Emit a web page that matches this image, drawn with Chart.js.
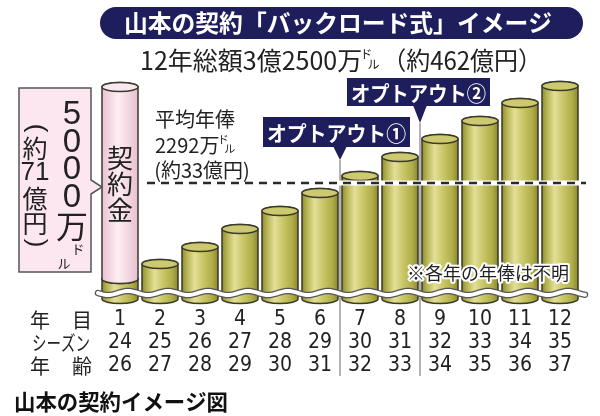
<!DOCTYPE html>
<html lang="ja">
<head>
<meta charset="utf-8">
<script src="https://cdn.jsdelivr.net/npm/chart.js@4.4.1/dist/chart.umd.min.js"></script>
<style>
  html, body { margin: 0; padding: 0; background: #fff; }
  #chart { display: block; }
</style>
</head>
<body>
<canvas id="chart" width="600" height="416"></canvas>
<script>
const years = ["1", "2", "3", "4", "5", "6", "7", "8", "9", "10", "11", "12"];
const seasons = ["24", "25", "26", "27", "28", "29", "30", "31", "32", "33", "34", "35"];
const ages = ["26", "27", "28", "29", "30", "31", "32", "33", "34", "35", "36", "37"];
// heights (the axis is broken, so these are only relative)
const salaryLevel = [20, 35, 52, 70, 88, 106, 123, 142, 160, 178, 196, 213];
const bonusLevel = [192, 0, 0, 0, 0, 0, 0, 0, 0, 0, 0, 0];
const averageLevel = 116;
const optOutAfter = [6, 8];

const JP = '"Noto Sans CJK JP", sans-serif';
const NUM = '"Liberation Sans Narrow", "DejaVu Sans Condensed", sans-serif';
const NAVY = "#1d1e5b";

const goldSide = [[0, "#8e8b2e"], [0.12, "#b3b04f"], [0.35, "#e2df98"], [0.6, "#c8c565"], [0.85, "#aeab48"], [1, "#8a8729"]];
const pinkSide = [[0, "#eac3d2"], [0.45, "#fdeef4"], [1, "#e8c0cf"]];

function cylinder(ctx, cx, w, top, bottom, side, cap) {
    const rx = w / 2, ry = 4.5;
    const l = cx - rx, r = cx + rx;
    const g = ctx.createLinearGradient(l, 0, r, 0);
    side.forEach(([o, c]) => g.addColorStop(o, c));
    ctx.save();
    ctx.lineWidth = 1.5;
    ctx.strokeStyle = "#3b3a2c";
    ctx.beginPath();
    ctx.moveTo(l, top);
    ctx.lineTo(l, bottom);
    ctx.ellipse(cx, bottom, rx, ry, 0, Math.PI, 0, true);
    ctx.lineTo(r, top);
    ctx.ellipse(cx, top, rx, ry, 0, 0, Math.PI, true);
    ctx.closePath();
    ctx.fillStyle = g;
    ctx.fill();
    ctx.stroke();
    ctx.beginPath();
    ctx.ellipse(cx, top, rx, ry, 0, 0, Math.PI * 2);
    ctx.fillStyle = cap;
    ctx.fill();
    ctx.stroke();
    ctx.restore();
}

function text(ctx, str, x, y, font, color, align, maxW) {
    ctx.font = font;
    ctx.fillStyle = color;
    ctx.textAlign = align || "center";
    ctx.textBaseline = "middle";
    if (maxW) ctx.fillText(str, x, y, maxW);
    else ctx.fillText(str, x, y);
}

// a paren turned for vertical writing
function vparen(ctx, ch, x, y, size) {
    ctx.save();
    ctx.translate(x, y);
    ctx.rotate(Math.PI / 2);
    text(ctx, ch, 0, 0, size + 'px "Liberation Sans", sans-serif', "#222");
    ctx.restore();
}

// small ド/ル pair set beside 万
function doru(ctx, x, y, size) {
    text(ctx, "ド", x + size * 0.35, y - size * 0.45, size + "px " + JP, "#222", "center");
    text(ctx, "ル", x + size * 0.95, y + size * 0.35, size + "px " + JP, "#222", "center");
}

const decor = {
    id: "decor",
    beforeDraw(chart) {
        const ctx = chart.ctx;
        ctx.save();
        ctx.fillStyle = "#fff";
        ctx.fillRect(0, 0, chart.width, chart.height);
        ctx.restore();
    },
    beforeDatasetsDraw(chart) {
        const ctx = chart.ctx;
        const xs = chart.scales.x;
        const tips = [160, 123];
        ctx.save();
        ctx.strokeStyle = "#9a9a9a";
        ctx.lineWidth = 1.5;
        optOutAfter.forEach((n, i) => {
            const x = Math.round((xs.getPixelForValue(n - 1) + xs.getPixelForValue(n)) / 2);
            ctx.beginPath();
            ctx.moveTo(x, tips[i]);
            ctx.lineTo(x, 376);
            ctx.stroke();
        });
        ctx.restore();
    },
    afterDatasetsDraw(chart) {
        const ctx = chart.ctx;
        const ys = chart.scales.y;
        const gold = chart.getDatasetMeta(0).data;
        const pink = chart.getDatasetMeta(1).data;

        gold.forEach((b) => cylinder(ctx, b.x, b.width, b.y, b.base, goldSide, "#ccc96f"));
        pink.forEach((b, i) => {
            if (bonusLevel[i] > 0) cylinder(ctx, b.x, b.width, b.y, b.base, pinkSide, "#fbe7ef");
        });

        // broken-axis wave
        const wy = ys.getPixelForValue(0) - 6;
        const x0 = chart.chartArea.left - 2, x1 = chart.chartArea.right + 5;
        ctx.save();
        ctx.beginPath();
        for (let x = x0; x <= x1; x += 1) {
            const y = wy + 2 * Math.sin(((x - x0) / 40) * Math.PI * 2);
            if (x === x0) ctx.moveTo(x, y); else ctx.lineTo(x, y);
        }
        ctx.lineCap = "round";
        ctx.strokeStyle = "#555";
        ctx.lineWidth = 6.5;
        ctx.stroke();
        ctx.strokeStyle = "#fff";
        ctx.lineWidth = 4;
        ctx.stroke();
        ctx.restore();

        // average line, dark dashes on a thin white band
        const ay = ys.getPixelForValue(averageLevel);
        ctx.save();
        ctx.beginPath();
        ctx.moveTo(147, ay);
        ctx.lineTo(586, ay);
        ctx.strokeStyle = "#fff";
        ctx.lineWidth = 5;
        ctx.stroke();
        ctx.strokeStyle = "#2a2a2a";
        ctx.lineWidth = 2.5;
        ctx.setLineDash([8, 6]);
        ctx.stroke();
        ctx.restore();

        // 契約金 inside the pink cylinder
        const p = pink[0];
        ["契", "約", "金"].forEach((c, i) => text(ctx, c, p.x, 158 + i * 26, "26px " + JP, "#222"));
    },
    afterDraw(chart) {
        const ctx = chart.ctx;

        // title banner
        ctx.save();
        ctx.fillStyle = NAVY;
        ctx.beginPath();
        ctx.roundRect(100, 7, 483, 32, 16);
        ctx.fill();
        ctx.restore();
        text(ctx, "山本の契約「バックロード式」イメージ", 338, 23, "bold 24px " + JP, "#fff", "center", 428);

        // subtitle
        let sx = 140;
        const sy = 60;
        const sFont = "25px " + JP;
        ctx.font = sFont;
        const s1 = "12年総額3億2500万";
        text(ctx, s1, sx, sy, sFont, "#222", "left", 228);
        sx += Math.min(ctx.measureText(s1).width, 228);
        doru(ctx, sx, sy, 12);
        text(ctx, "（約462億円）", sx + 20, sy, sFont, "#222", "left", 160);

        // left pink box with pointer
        ctx.save();
        ctx.fillStyle = "#fce6ef";
        ctx.strokeStyle = "#555";
        ctx.lineWidth = 1.5;
        ctx.beginPath();
        ctx.moveTo(19, 88);
        ctx.lineTo(91, 88);
        ctx.lineTo(91, 180);
        ctx.lineTo(102, 187);
        ctx.lineTo(91, 194);
        ctx.lineTo(91, 272);
        ctx.lineTo(19, 272);
        ctx.closePath();
        ctx.fill();
        ctx.stroke();
        ctx.restore();
        ["5", "0", "0", "0"].forEach((c, i) => text(ctx, c, 72, 115 + i * 27.5, '33px "Liberation Sans", sans-serif', "#222"));
        text(ctx, "万", 72, 226, "32px " + JP, "#222");
        text(ctx, "ド", 78, 249, "13px " + JP, "#222");
        text(ctx, "ル", 64, 263, "13px " + JP, "#222");
        vparen(ctx, "(", 36, 128, 26);
        text(ctx, "約", 35, 148, "25px " + JP, "#222");
        text(ctx, "71", 35, 173, '26px "Liberation Sans", sans-serif', "#222");
        text(ctx, "億", 35, 198, "25px " + JP, "#222");
        text(ctx, "円", 35, 223, "25px " + JP, "#222");
        vparen(ctx, ")", 36, 243, 26);

        // average salary note
        text(ctx, "平均年俸", 195, 119, "20px " + JP, "#222");
        text(ctx, "2292万", 155, 145, "20px " + JP, "#222", "left");
        ctx.font = "20px " + JP;
        doru(ctx, 155 + ctx.measureText("2292万").width, 145, 11);
        text(ctx, "(約33億円)", 202, 170, "20px " + JP, "#222", "center", 112);

        // opt-out callouts
        const callouts = [
            { t: "オプトアウト①", x: 263, y: 117, w: 147, h: 30, tip: 160 },
            { t: "オプトアウト②", x: 347, y: 78, w: 143, h: 28, tip: 123 }
        ];
        const xs = chart.scales.x;
        callouts.forEach((c, i) => {
            const n = optOutAfter[i];
            const px = Math.round((xs.getPixelForValue(n - 1) + xs.getPixelForValue(n)) / 2);
            ctx.save();
            ctx.fillStyle = NAVY;
            ctx.fillRect(c.x, c.y, c.w, c.h);
            ctx.beginPath();
            ctx.moveTo(px - 7, c.y + c.h - 1);
            ctx.lineTo(px + 7, c.y + c.h - 1);
            ctx.lineTo(px, c.tip);
            ctx.closePath();
            ctx.fill();
            ctx.restore();
            text(ctx, c.t, c.x + c.w / 2, c.y + c.h / 2 + 1, "bold 21px " + JP, "#fff", "center", c.w - 8);
        });

        // note
        ctx.save();
        ctx.font = "18px " + JP;
        ctx.textAlign = "left";
        ctx.textBaseline = "middle";
        ctx.lineWidth = 4;
        ctx.strokeStyle = "#fff";
        ctx.lineJoin = "round";
        ctx.strokeText("※各年の年俸は不明", 407, 273, 162);
        ctx.fillStyle = "#222";
        ctx.fillText("※各年の年俸は不明", 407, 273, 162);
        ctx.restore();

        // row headers for the axis labels
        text(ctx, "年", 40, 320, "20px " + JP, "#222");
        text(ctx, "目", 82, 320, "20px " + JP, "#222");
        text(ctx, "シーズン", 32, 343, "20px " + JP, "#222", "left", 58);
        text(ctx, "年", 40, 366, "20px " + JP, "#222");
        text(ctx, "齢", 82, 366, "20px " + JP, "#222");

        // caption
        text(ctx, "山本の契約イメージ図", 14, 402, "bold 22px " + JP, "#111", "left", 214);
    }
};

new Chart(document.getElementById("chart"), {
    type: "bar",
    data: {
        labels: years.map((y, i) => [y, seasons[i], ages[i]]),
        datasets: [
            { label: "年俸", data: salaryLevel, backgroundColor: "rgba(0,0,0,0)", barPercentage: 0.9, categoryPercentage: 1 },
            { label: "契約金", data: bonusLevel, backgroundColor: "rgba(0,0,0,0)", barPercentage: 0.9, categoryPercentage: 1 }
        ]
    },
    options: {
        responsive: false,
        animation: false,
        devicePixelRatio: 1,
        layout: { padding: { left: 100, right: 20, top: 59, bottom: 0 } },
        plugins: { legend: { display: false }, tooltip: { enabled: false } },
        scales: {
            x: {
                stacked: true,
                grid: { display: false, drawTicks: false },
                border: { display: false },
                ticks: {
                    autoSkip: false,
                    maxRotation: 0,
                    padding: 9,
                    color: "#222",
                    font: { family: NUM, size: 21, lineHeight: 1.1 }
                },
                afterFit: (s) => { s.height = 117; }
            },
            y: { stacked: true, display: false, min: 0, max: 240 }
        }
    },
    plugins: [decor]
});
</script>
</body>
</html>
